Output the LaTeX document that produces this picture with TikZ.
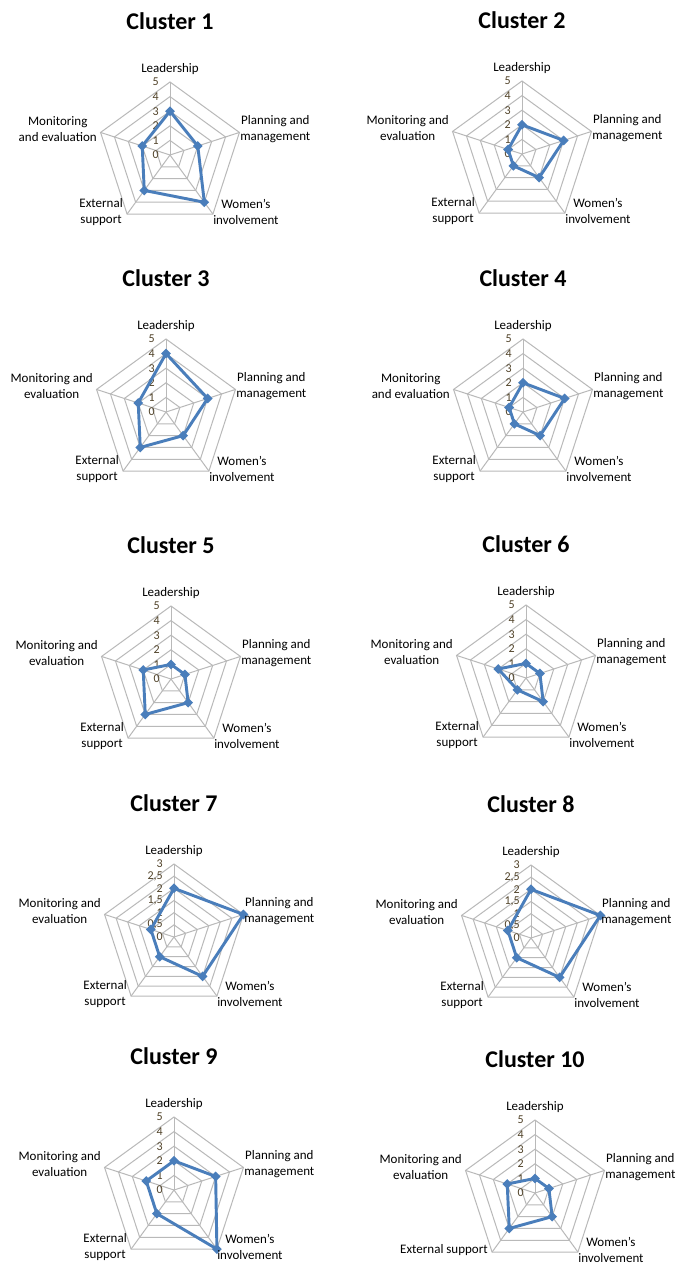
\documentclass[tikz,border=0pt]{standalone}
\usepackage{fontspec}
\setmainfont{Carlito}
\usepackage{xcolor}
\usepackage{tikz}
\usetikzlibrary{shapes.geometric}

\definecolor{gridgray}{RGB}{185,185,185}
\definecolor{seriesblue}{RGB}{74,126,187}
\definecolor{ticktext}{RGB}{80,66,40}

\tikzset{
  gridline/.style={draw=gridgray, line width=0.75pt},
  dataline/.style={draw=seriesblue, line width=2.2pt, line join=round},
  datadot/.style={diamond, fill=seriesblue, inner sep=0pt, minimum size=7.5pt},
  axislabel/.style={inner sep=0pt, align=center, font=\fontsize{9.75}{12}\selectfont},
  ticklabel/.style={inner sep=0pt, anchor=east, text=ticktext, font=\fontsize{9}{10}\selectfont},
  charttitle/.style={inner sep=0pt, font=\fontsize{18}{22}\selectfont\bfseries},
}

% pentagon rings, spokes and scale: #1 rings, #2 scale labels
\newcommand{\radargrid}[2]{%
  \foreach \k in {1,...,#1}
    \draw[gridline] (-90:\k*73/#1) \foreach \a in {-18,54,126,198} { -- (\a:\k*73/#1) } -- cycle;
  \foreach \a in {-90,-18,54,126,198}
    \draw[gridline] (0,0) -- (\a:73);
  \foreach \lbl [count=\i from 0] in {#2}
    \node[ticklabel] at (-11,-\i*73/#1) {\lbl};
}

% series: #1 name, #2 scale max, #3 values (L,P,W,E,M)
\newcommand{\radardata}[3]{%
  \foreach \v [count=\i from 0] in {#3}
    \coordinate (#1-\i) at (-90+72*\i:\v*73/#2);
  \draw[dataline] (#1-0) -- (#1-1) -- (#1-2) -- (#1-3) -- (#1-4) -- cycle;
  \foreach \i in {0,...,4}
    \node[datadot] at (#1-\i) {};
}

% category labels: #1 name, #2 monitoring text, #3 external text
\newcommand{\radarlabels}[3]{%
  \node[axislabel] (#1-lead) at (0,-86) {Leadership};
  \node[axislabel, anchor=west] (#1-plan) at (70,-26) {Planning and\\management};
  \node[axislabel, anchor=west] (#1-women) at (43,57) {Women’s\\involvement};
  \node[axislabel, anchor=east] (#1-ext) at (-47,57) {#3};
  \node[axislabel, anchor=east] (#1-mon) at (-73,-26) {#2};
}

\begin{document}
\begin{tikzpicture}[x=0.75pt,y=0.75pt,yscale=-1,xscale=1]
\useasboundingbox[fill=white] (0,0) rectangle (687,1267);
%Chart: Cluster 1
\begin{scope}[shift={(170,155)}]
\radargrid{5}{0,...,5}
\radardata{c1}{5}{3,2,4,3,2}
\radarlabels{c1}{Monitoring\\and evaluation}{External\\support}
\node[charttitle] (c1-title) at (0,-134) {Cluster 1};
\end{scope}
%Chart: Cluster 2
\begin{scope}[shift={(522,154)}]
\radargrid{5}{0,...,5}
\radardata{c2}{5}{2,3,2,1,1}
\radarlabels{c2}{Monitoring and\\evaluation}{External\\support}
\node[charttitle] (c2-title) at (0,-134) {Cluster 2};
\end{scope}
%Chart: Cluster 3
\begin{scope}[shift={(166,412)}]
\radargrid{5}{0,...,5}
\radardata{c3}{5}{4,3,2,3,2}
\radarlabels{c3}{Monitoring and\\evaluation}{External\\support}
\node[charttitle] (c3-title) at (0,-134) {Cluster 3};
\end{scope}
%Chart: Cluster 4
\begin{scope}[shift={(523,412)}]
\radargrid{5}{0,...,5}
\radardata{c4}{5}{2,3,2,1,1}
\radarlabels{c4}{Monitoring\\and evaluation}{External\\support}
\node[charttitle] (c4-title) at (0,-134) {Cluster 4};
\end{scope}
%Chart: Cluster 5
\begin{scope}[shift={(171,679)}]
\radargrid{5}{0,...,5}
\radardata{c5}{5}{1,1,2,3,2}
\radarlabels{c5}{Monitoring and\\evaluation}{External\\support}
\node[charttitle] (c5-title) at (0,-134) {Cluster 5};
\end{scope}
%Chart: Cluster 6
\begin{scope}[shift={(526,678)}]
\radargrid{5}{0,...,5}
\radardata{c6}{5}{1,1,2,1,2}
\radarlabels{c6}{Monitoring and\\evaluation}{External\\support}
\node[charttitle] (c6-title) at (0,-134) {Cluster 6};
\end{scope}
%Chart: Cluster 7
\begin{scope}[shift={(174,937)}]
\radargrid{6}{0,{0,5},1,{1,5},2,{2,5},3}
\radardata{c7}{3}{2,3,2,1,1}
\radarlabels{c7}{Monitoring and\\evaluation}{External\\support}
\node[charttitle] (c7-title) at (0,-134) {Cluster 7};
\end{scope}
%Chart: Cluster 8
\begin{scope}[shift={(531,938)}]
\radargrid{6}{0,{0,5},1,{1,5},2,{2,5},3}
\radardata{c8}{3}{2,3,2,1,1}
\radarlabels{c8}{Monitoring and\\evaluation}{External\\support}
\node[charttitle] (c8-title) at (0,-134) {Cluster 8};
\end{scope}
%Chart: Cluster 9
\begin{scope}[shift={(174,1190)}]
\radargrid{5}{0,...,5}
\radardata{c9}{5}{2,3,5,2,2}
\radarlabels{c9}{Monitoring and\\evaluation}{External\\support}
\node[charttitle] (c9-title) at (0,-134) {Cluster 9};
\end{scope}
%Chart: Cluster 10
\begin{scope}[shift={(535,1193)}]
\radargrid{5}{0,...,5}
\radardata{c10}{5}{1,1,2,3,2}
\radarlabels{c10}{Monitoring and\\evaluation}{External support}
\node[charttitle] (c10-title) at (0,-134) {Cluster 10};
\end{scope}
\end{tikzpicture}
\end{document}
